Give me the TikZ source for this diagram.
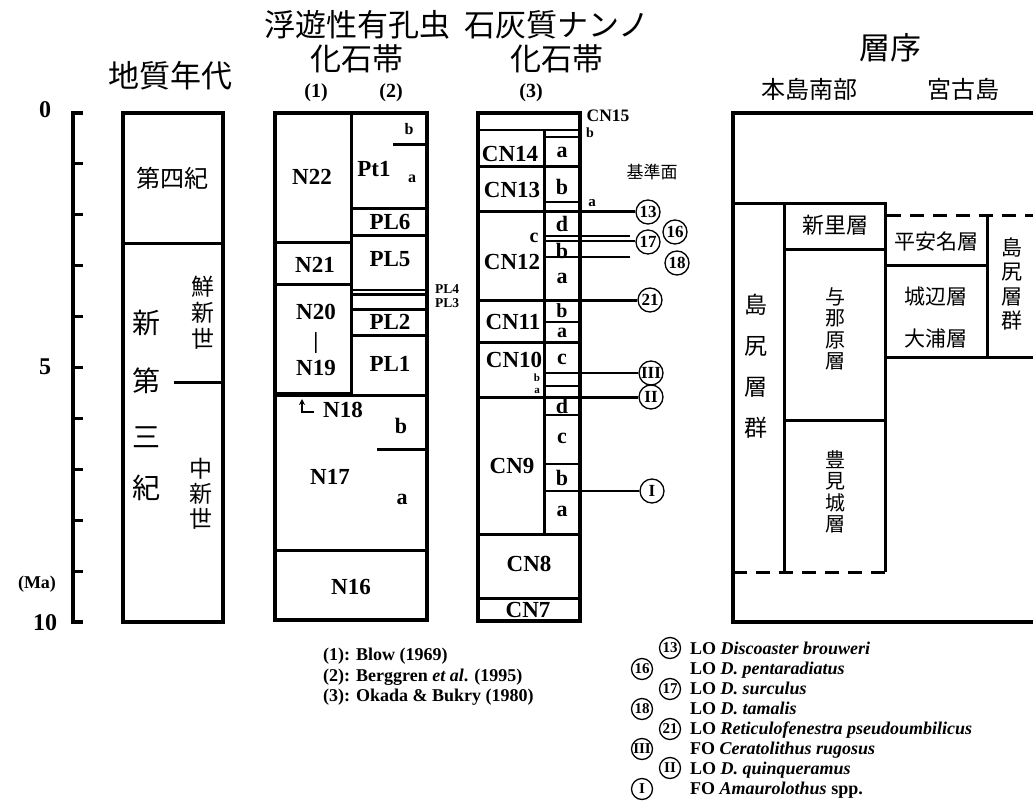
\documentclass[tikz,border=0pt]{standalone}
\usepackage{fontspec}
\setmainfont{Liberation Serif}
\newfontfamily\jpfont{Noto Sans CJK JP}
\usetikzlibrary{arrows.meta}

\tikzset{
  boxline/.style={line width=4.5pt},
  zoneline/.style={line width=3pt},
  subline/.style={line width=1.6pt},
  zonelab/.style={font=\fontsize{23}{24}\selectfont\bfseries, inner sep=0pt},
  sublab/.style={font=\fontsize{22}{22}\selectfont\bfseries, inner sep=0pt},
  minilab/.style={font=\fontsize{13.5}{13.5}\selectfont\bfseries, inner sep=0pt},
  jtitle/.style={font=\jpfont\fontsize{31}{34}\selectfont, inner sep=0pt, align=center},
  jlab/.style={font=\jpfont\fontsize{22}{25}\selectfont, inner sep=0pt, align=center},
  marker/.style={circle, draw, line width=1.3pt, inner sep=0pt, minimum size=24pt,
    font=\fontsize{17}{17}\selectfont\bfseries},
}

\begin{document}
\begin{tikzpicture}[x=1pt, y=-1pt]
\useasboundingbox (0,0) rectangle (1033,805);

% age scale
\draw[boxline] (83,113) -- (73,113) -- (73,622) -- (83,622);
\foreach \t in {1,...,9}
  \draw[zoneline] (73,113+50.9*\t) -- (83,113+50.9*\t);
\begin{scope}[every node/.style={font=\fontsize{24}{24}\selectfont\bfseries, inner sep=0pt}]
  \node (age0)  at (45,110) {0};
  \node (age5)  at (45,367) {5};
  \node (age10) at (45,623) {10};
\end{scope}
\node[font=\fontsize{18}{18}\selectfont\bfseries, inner sep=0pt] (unit) at (37,584) {(Ma)};

% geologic age
\node[jtitle] (t1) at (170,76) {地質年代};
\draw[boxline] (123,113) rectangle (223,622);
\draw[zoneline] (123,243) -- (223,243);
\draw[zoneline] (174,382) -- (223,382);
\node[jlab, font=\jpfont\fontsize{24}{24}\selectfont] (quat) at (172,178) {第四紀};
\begin{scope}[every node/.style={jlab, font=\jpfont\fontsize{28}{28}\selectfont}]
  \node (neo1) at (146,323) {新};
  \node (neo2) at (146,381) {第};
  \node (neo3) at (146,437) {三};
  \node (neo4) at (146,488) {紀};
\end{scope}
\node[jlab, font=\jpfont\fontsize{23}{26}\selectfont] (plio) at (203,313) {鮮\\新\\世};
\node[jlab, font=\jpfont\fontsize{23}{25}\selectfont] (mio) at (201,494) {中\\新\\世};

% planktonic foraminifera
\node[jtitle] (t2) at (357,42) {浮遊性有孔虫\\化石帯};
\node[font=\fontsize{20}{20}\selectfont\bfseries, inner sep=0pt] (h1) at (316,93) {(1)};
\node[font=\fontsize{20}{20}\selectfont\bfseries, inner sep=0pt] (h2) at (391,93) {(2)};
\draw[boxline] (275,113) rectangle (427,620);
\draw[zoneline] (351,113) -- (351,395);
\draw[zoneline] (275,242) -- (351,242);
\draw[zoneline] (275,284) -- (351,284);
\draw[boxline] (275,394.5) -- (351,394.5);
\draw[zoneline] (351,395.5) -- (427,395.5);
\draw[zoneline] (351,209) -- (427,209);
\draw[zoneline] (351,235) -- (427,235);
\draw[line width=2.2pt] (351,290) -- (427,290);
\draw[line width=2.2pt] (351,294.5) -- (427,294.5);
\draw[zoneline] (351,309) -- (427,309);
\draw[zoneline] (351,335) -- (427,335);
\draw[zoneline] (393,145) -- (427,145);
\draw[zoneline] (377,449) -- (427,449);
\draw[zoneline] (275,550) -- (427,550);

\begin{scope}[every node/.style={zonelab}]
  \node (n22) at (312,177) {N22};
  \node (n21) at (315,265) {N21};
  \node (n20) at (316,312) {N20};
  \node (n20bar) at (316,343) {|};
  \node (n19) at (316,368) {N19};
  \node (n18) at (343,410) {N18};
  \node (n17) at (330,477) {N17};
  \node (n16) at (351,587) {N16};
  \node (pt1) at (374,169) {Pt1};
  \node (pl6) at (390,222) {PL6};
  \node (pl5) at (390,259) {PL5};
  \node (pl2) at (390,322) {PL2};
  \node (pl1) at (390,364) {PL1};
\end{scope}
\node[font=\fontsize{16}{16}\selectfont\bfseries, inner sep=0pt] (pt1b) at (409,129) {b};
\node[font=\fontsize{16}{16}\selectfont\bfseries, inner sep=0pt] (pt1a) at (412,179) {a};
\node[minilab] (pl4) at (447,289) {PL4};
\node[minilab] (pl3) at (447,303) {PL3};
\node[sublab] (n17b) at (401,426) {b};
\node[sublab] (n17a) at (402,499) {a};
\coordinate (n18tail) at (314,412);
\coordinate (n18tip) at (302,399);
\draw[line width=1.5pt, -{Stealth[length=6pt,width=6pt]}] (n18tail) -| (n18tip);

% calcareous nannofossils
\node[jtitle] (t3) at (557,42) {石灰質ナンノ\\化石帯};
\node[font=\fontsize{20}{20}\selectfont\bfseries, inner sep=0pt] (h3) at (531,93) {(3)};
\draw[boxline] (478,113) rectangle (580,621);
\draw[zoneline] (544,130) -- (544,534);
\draw[subline] (478,130) -- (580,130);
\draw[subline] (544,137) -- (580,137);
\draw[zoneline] (478,167) -- (580,167);
\draw[subline] (544,202) -- (580,202);
\draw[subline] (544,322) -- (580,322);
\draw[zoneline] (478,342) -- (580,342);
\draw[subline] (544,386) -- (580,386);
\draw[subline] (544,415) -- (580,415);
\draw[subline] (544,464) -- (580,464);
\draw[zoneline] (478,534) -- (580,534);
\draw[zoneline] (478,598) -- (580,598);

\begin{scope}[every node/.style={zonelab}]
  \node (cn14) at (510,154) {CN14};
  \node (cn13) at (512,190) {CN13};
  \node (cn12) at (512,262) {CN12};
  \node (cn11) at (513,322) {CN11};
  \node (cn10) at (514,360) {CN10};
  \node (cn9)  at (512,466) {CN9};
  \node (cn8)  at (529,564) {CN8};
  \node (cn7)  at (528,610) {CN7};
\end{scope}
\foreach \lab/\y [count=\i] in {a/152, b/187, d/224, b/251, a/278}
  \node[sublab] (s\i) at (562,\y) {\lab};
\node[sublab, font=\fontsize{20}{20}\selectfont\bfseries] (s6) at (562,311) {b};
\node[sublab, font=\fontsize{20}{20}\selectfont\bfseries] (s7) at (562,333) {a};
\foreach \lab/\y [count=\i from 8] in {c/359, d/406, c/438, b/478, a/511}
  \node[sublab] (s\i) at (562,\y) {\lab};
\node[font=\fontsize{20}{20}\selectfont\bfseries, inner sep=0pt] (cn12c) at (534,238) {c};
\node[font=\fontsize{11}{11}\selectfont\bfseries, inner sep=0pt] (cn10b) at (537,378) {b};
\node[font=\fontsize{11}{11}\selectfont\bfseries, inner sep=0pt] (cn10a) at (537,391) {a};
\node[font=\fontsize{17.5}{17.5}\selectfont\bfseries, inner sep=0pt] (cn15) at (608,116) {CN15};
\node[font=\fontsize{14}{14}\selectfont\bfseries, inner sep=0pt] (cn14b) at (590,133) {b};
\node[font=\fontsize{15}{15}\selectfont\bfseries, inner sep=0pt] (cn13a) at (592,203) {a};
\node[jlab, font=\jpfont\fontsize{17}{17}\selectfont] (datum) at (652,172) {基準面};

% datum markers
\node[marker] (m13)  at (648,212) {13};
\node[marker] (m16)  at (675,232) {16};
\node[marker] (m17)  at (648,242) {17};
\node[marker] (m18)  at (677,263) {18};
\node[marker] (m21)  at (650,300) {21};
\node[marker] (mIII) at (651,373) {III};
\node[marker] (mII)  at (651,397) {II};
\node[marker] (mI)   at (652,491) {I};

\coordinate (b13) at (478,212);
\coordinate (b16) at (544,236);
\coordinate (e16) at (630,236);
\coordinate (b17) at (544,241);
\coordinate (b18) at (544,257);
\coordinate (e18) at (630,257);
\coordinate (b21) at (478,300);
\coordinate (bIII) at (544,373);
\coordinate (bII) at (478,397);
\coordinate (bI) at (544,491);
\draw[zoneline] (b13) -- (m13);
\draw[subline] (b16) -- (e16);
\draw[subline] (b17) -- (b17 -| m17.west);
\draw[subline] (b18) -- (e18);
\draw[zoneline] (b21) -- (m21);
\draw[subline] (bIII) -- (mIII);
\draw[zoneline] (bII) -- (mII);
\draw[subline] (bI) -- (mI);

% stratigraphy
\node[jtitle] (t4) at (890,48) {層序};
\node[jlab, font=\jpfont\fontsize{24}{24}\selectfont] (south) at (809,89) {本島南部};
\node[jlab, font=\jpfont\fontsize{24}{24}\selectfont] (miyako) at (963,89) {宮古島};
\draw[boxline] (1045,113) -- (733,113) -- (733,622) -- (1045,622);
\draw[zoneline] (733,204) -- (885,204) -- (885,572);
\draw[zoneline] (784,204) -- (784,572);
\draw[zoneline] (784,249) -- (885,249);
\draw[zoneline] (784,420) -- (885,420);
\draw[zoneline, dash pattern=on 14pt off 9pt] (733,572) -- (885,572);
\draw[zoneline, dash pattern=on 14pt off 9pt] (887,216) -- (1040,216);
\draw[zoneline] (987,216) -- (987,357);
\draw[zoneline] (885,265) -- (987,265);
\draw[zoneline] (885,357) -- (1040,357);

\node[jlab] (shinzato) at (835,225) {新里層};
\node[jlab, font=\jpfont\fontsize{21}{21}\selectfont] (heianna) at (936,242) {平安名層};
\node[jlab, font=\jpfont\fontsize{21}{21}\selectfont] (gusukube) at (936,297) {城辺層};
\node[jlab, font=\jpfont\fontsize{21}{21}\selectfont] (oura) at (936,338) {大浦層};
\node[jlab, font=\jpfont\fontsize{20}{21.5}\selectfont] (yonabaru) at (835,329) {与\\那\\原\\層};
\node[jlab, font=\jpfont\fontsize{20}{21.5}\selectfont] (tomigusuku) at (835,492) {豊\\見\\城\\層};
\node[jlab, font=\jpfont\fontsize{23}{41}\selectfont] (shimajiriS) at (756,366) {島\\尻\\層\\群};
\node[jlab, font=\jpfont\fontsize{21}{24.5}\selectfont] (shimajiriM) at (1012,284) {島\\尻\\層\\群};

% references
\node[anchor=west, align=left, inner sep=0pt,
  font=\fontsize{18}{20.5}\selectfont\bfseries] (refs) at (323,677)
  {(1): Blow (1969)\\(2): Berggren \textit{et al}. (1995)\\(3): Okada \& Bukry (1980)};

% datum legend
\foreach \lab/\x/\y in {13/670/648, 16/642/669, 17/670/689, 18/642/709,
    21/670/729, III/642/749, II/670/768, I/642/789}
  \node[marker, minimum size=21pt, font=\fontsize{15}{15}\selectfont\bfseries] (l\lab) at (\x,\y) {\lab};
\foreach \txt [count=\i from 0] in {LO \textit{Discoaster brouweri},
    LO \textit{D. pentaradiatus}, LO \textit{D. surculus}, LO \textit{D. tamalis},
    LO \textit{Reticulofenestra pseudoumbilicus}, FO \textit{Ceratolithus rugosus},
    LO \textit{D. quinqueramus}, FO \textit{Amaurolothus} spp.}
  \node[anchor=base west, inner sep=0pt, font=\fontsize{18}{18}\selectfont\bfseries]
    (leg\i) at (690,654+20*\i) {\txt};

\end{tikzpicture}
\end{document}
